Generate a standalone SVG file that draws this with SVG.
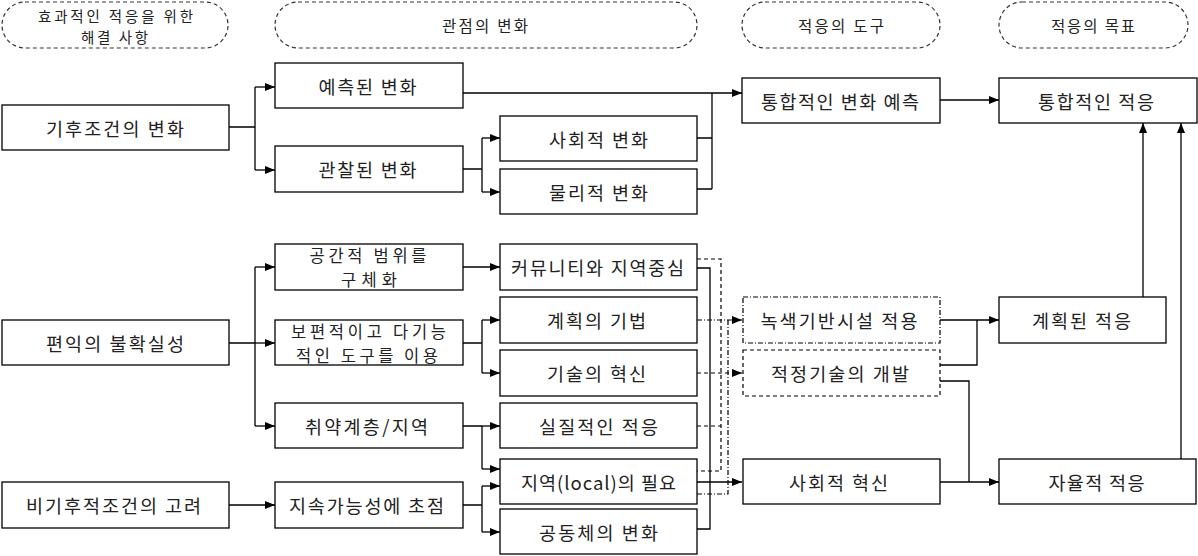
<svg xmlns="http://www.w3.org/2000/svg" width="1198" height="556" viewBox="0 0 1198 556">
<defs>
<marker id="arr" markerUnits="userSpaceOnUse" markerWidth="10" markerHeight="8" refX="10" refY="4" orient="auto">
<path d="M0,0 L10,4 L0,8 z" fill="#000"/>
</marker>
<style>
.hdr{fill:#fff;stroke:#333;stroke-width:1.2;stroke-dasharray:4,3}
.box{fill:#fff;stroke:#000;stroke-width:1.3}
.dbox{fill:#fff;stroke:#000;stroke-width:1.2;stroke-dasharray:4,3}
.ddbox{fill:#fff;stroke:#000;stroke-width:1.2;stroke-dasharray:5,2,1,2}
text{font-family:"Noto Sans CJK KR","Noto Sans",sans-serif;fill:#222;text-anchor:middle;dominant-baseline:central}
.t{font-size:18.5px}
.t2{font-size:16.5px}
.h{font-size:15.5px}
.h2{font-size:14.5px}
.c{fill:none;stroke:#000;stroke-width:1.3}
.cd{fill:none;stroke:#000;stroke-width:1.2;stroke-dasharray:4,3}
.cdd{fill:none;stroke:#000;stroke-width:1.2;stroke-dasharray:5,2,1,2}
.a{marker-end:url(#arr)}
</style>
</defs>
<rect width="1198" height="556" fill="#fff"/>

<g id="headers">
<g id="h1"><rect class="hdr" x="2" y="2" width="226" height="46" rx="23"/><text class="h2"><tspan x="115.5" y="15" textLength="155" lengthAdjust="spacing">효과적인 적응을 위한</tspan><tspan x="114.5" y="36" textLength="67" lengthAdjust="spacing">해결 사항</tspan></text></g>
<g id="h2"><rect class="hdr" x="275" y="2" width="422" height="46" rx="23"/><text class="h" x="485" y="25" textLength="86" lengthAdjust="spacing">관점의 변화</text></g>
<g id="h3"><rect class="hdr" x="742" y="2" width="198" height="46" rx="23"/><text class="h" x="841" y="25" textLength="86" lengthAdjust="spacing">적응의 도구</text></g>
<g id="h4"><rect class="hdr" x="999" y="2" width="189" height="46" rx="23"/><text class="h" x="1093" y="25" textLength="84" lengthAdjust="spacing">적응의 목표</text></g>
</g>

<g id="connectors">
<path class="c" d="M229,127 H255 M255,87 V170"/>
<path class="c a" d="M255,87 H275"/>
<path class="c a" d="M255,170 H275"/>
<path class="c a" d="M463,93 H742"/>
<path class="c" d="M697,138 H712 M697,189 H712 M712,189 V93"/>
<path class="c" d="M463,169 H482 M482,138 V192"/>
<path class="c a" d="M482,138 H500"/>
<path class="c a" d="M482,192 H500"/>
<path class="c a" d="M940,100 H999"/>

<path class="c" d="M229,343 H255 M255,267 V426"/>
<path class="c a" d="M255,267 H275"/>
<path class="c a" d="M255,343 H275"/>
<path class="c a" d="M255,426 H275"/>
<path class="c a" d="M463,267 H500"/>
<path class="c" d="M463,343 H482 M482,320 V373"/>
<path class="c a" d="M482,320 H500"/>
<path class="c a" d="M482,373 H500"/>
<path class="c" d="M463,426 H482 M482,426 V469"/>
<path class="c a" d="M482,426 H500"/>
<path class="c a" d="M482,469 H500"/>
<path class="c a" d="M229,505 H275"/>
<path class="c" d="M463,505 H482 M482,486 V532"/>
<path class="c a" d="M482,486 H500"/>
<path class="c a" d="M482,532 H500"/>

<path class="c" d="M697,268 H710 V529 H697"/>
<path class="c a" d="M697,482 H742"/>
<path class="cd" d="M697,259 H721 V471 H697 M697,426 H721"/>
<path class="cd a" d="M697,373 H742"/>
<path class="cdd a" d="M697,320 H742"/>
<path class="cdd" d="M728,320 V494 H697"/>

<path class="c a" d="M940,320 H999"/>
<path class="c" d="M940,365 H977 V320"/>
<path class="c" d="M940,381 H969 V482"/>
<path class="c a" d="M940,482 H999"/>
<path class="c a" d="M1143,297 V123"/>
<path class="c a" d="M1181,459 V123"/>
</g>

<g id="n-climate"><rect class="box" x="2" y="105" width="227" height="45"/><text class="t" x="115" y="128" textLength="138" lengthAdjust="spacing">기후조건의 변화</text></g>
<g id="n-predicted"><rect class="box" x="275" y="63" width="188" height="45"/><text class="t" x="367.5" y="86" textLength="98" lengthAdjust="spacing">예측된 변화</text></g>
<g id="n-observed"><rect class="box" x="275" y="146" width="188" height="46"/><text class="t" x="367.5" y="169" textLength="98" lengthAdjust="spacing">관찰된 변화</text></g>
<g id="n-social-change"><rect class="box" x="500" y="116" width="197" height="45"/><text class="t" x="598.5" y="139" textLength="99" lengthAdjust="spacing">사회적 변화</text></g>
<g id="n-physical-change"><rect class="box" x="500" y="169" width="197" height="45"/><text class="t" x="598.5" y="192" textLength="99" lengthAdjust="spacing">물리적 변화</text></g>
<g id="n-integrated-prediction"><rect class="box" x="742" y="78" width="198" height="45"/><text class="t" x="840" y="101" textLength="158" lengthAdjust="spacing">통합적인 변화 예측</text></g>
<g id="n-integrated-adaptation"><rect class="box" x="999" y="78" width="198" height="45"/><text class="t" x="1096" y="101" textLength="116" lengthAdjust="spacing">통합적인 적응</text></g>

<g id="n-uncertainty"><rect class="box" x="2" y="320" width="227" height="45"/><text class="t" x="115" y="343" textLength="138" lengthAdjust="spacing">편익의 불확실성</text></g>
<g id="n-spatial"><rect class="box" x="275" y="244" width="188" height="46"/><text class="t2"><tspan x="368" y="255" textLength="117" lengthAdjust="spacing">공간적 범위를</tspan><tspan x="369" y="279" textLength="56" lengthAdjust="spacing">구체화</tspan></text></g>
<g id="n-tools"><rect class="box" x="275" y="320" width="188" height="45"/><text class="t2"><tspan x="368.5" y="330.5" textLength="155" lengthAdjust="spacing">보편적이고 다기능</tspan><tspan x="367" y="354.5" textLength="142" lengthAdjust="spacing">적인 도구를 이용</tspan></text></g>
<g id="n-vulnerable"><rect class="box" x="275" y="403" width="188" height="45"/><text class="t" x="366.5" y="426" textLength="123" lengthAdjust="spacing">취약계층/지역</text></g>
<g id="n-nonclimate"><rect class="box" x="2" y="482" width="227" height="46"/><text class="t" x="113.5" y="505" textLength="175" lengthAdjust="spacing">비기후적조건의 고려</text></g>
<g id="n-sustain"><rect class="box" x="275" y="482" width="188" height="46"/><text class="t" x="366.5" y="505" textLength="155" lengthAdjust="spacing">지속가능성에 초점</text></g>

<g id="n-community"><rect class="box" x="500" y="244" width="197" height="46"/><text class="t" x="597.5" y="267" textLength="173" lengthAdjust="spacing">커뮤니티와 지역중심</text></g>
<g id="n-planning"><rect class="box" x="500" y="297" width="197" height="46"/><text class="t" x="596.5" y="320" textLength="99" lengthAdjust="spacing">계획의 기법</text></g>
<g id="n-tech"><rect class="box" x="500" y="350" width="197" height="46"/><text class="t" x="596.5" y="373" textLength="99" lengthAdjust="spacing">기술의 혁신</text></g>
<g id="n-practical"><rect class="box" x="500" y="403" width="197" height="45"/><text class="t" x="598.5" y="426" textLength="119" lengthAdjust="spacing">실질적인 적응</text></g>
<g id="n-local"><rect class="box" x="500" y="459" width="197" height="45"/><text class="t" x="598.5" y="482" textLength="155" lengthAdjust="spacing">지역(local)의 필요</text></g>
<g id="n-community-change"><rect class="box" x="500" y="509" width="197" height="45"/><text class="t" x="598.5" y="532" textLength="119" lengthAdjust="spacing">공동체의 변화</text></g>

<g id="n-green"><rect class="ddbox" x="743" y="297" width="197" height="46"/><text class="t" x="839" y="320" textLength="157" lengthAdjust="spacing">녹색기반시설 적용</text></g>
<g id="n-apptech"><rect class="dbox" x="743" y="350" width="197" height="46"/><text class="t" x="840" y="373" textLength="138" lengthAdjust="spacing">적정기술의 개발</text></g>
<g id="n-social-innov"><rect class="box" x="743" y="459" width="197" height="45"/><text class="t" x="838.5" y="482" textLength="99" lengthAdjust="spacing">사회적 혁신</text></g>
<g id="n-planned"><rect class="box" x="999" y="297" width="167" height="46"/><text class="t" x="1081.5" y="320" textLength="99" lengthAdjust="spacing">계획된 적응</text></g>
<g id="n-autonomous"><rect class="box" x="999" y="459" width="197" height="45"/><text class="t" x="1096.5" y="482" textLength="96" lengthAdjust="spacing">자율적 적응</text></g>
</svg>
